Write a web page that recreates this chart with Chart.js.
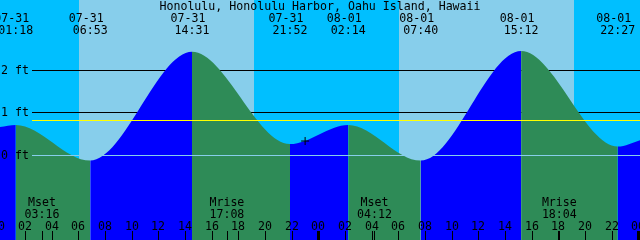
<!DOCTYPE html>
<html>
<head>
<meta charset="utf-8">
<script src="https://cdn.jsdelivr.net/npm/chart.js@4"></script>
<style>
  body { margin: 0; background: #fff; }
  #wrap { width: 640px; height: 240px; }
</style>
</head>
<body>
<div id="wrap"><canvas id="tideChart"></canvas></div>
<script>
const title = "Honolulu, Honolulu Harbor, Oahu Island, Hawaii";
const days = ["07-31", "08-01", "08-02"];

// visible window
const viewStart = "07-31 00:07";
const viewEnd = "08-02 00:07";

// tide extremes
const tideDates = ["07-31", "07-31", "07-31", "07-31", "08-01", "08-01", "08-01", "08-01"];
const tideTimes = ["01:18", "06:53", "14:31", "21:52", "02:14", "07:40", "15:12", "22:27"];
const tideHeights = [0.71, -0.13, 2.43, 0.26, 0.71, -0.13, 2.45, 0.20];

// where the curve leaves the picture on each side
const edgeHeights = [0.66, 0.35];

const sunrises = ["07-31 06:03", "08-01 06:03"];
const sunsets = ["07-31 19:10", "08-01 19:10"];

const moonNames = ["Mset", "Mrise", "Mset", "Mrise"];
const moonDates = ["07-31", "07-31", "08-01", "08-01"];
const moonTimes = ["03:16", "17:08", "04:12", "18:04"];

const markTime = "07-31 23:00";
const markHeight = 0.33;

const levelValues = [2, 1, 0];
const levelLabels = ["2 ft", "1 ft", "0 ft"];
const mslLevel = 0.82;

const hourLabels = ["00", "02", "04", "06", "08", "10", "12", "14", "16", "18", "20", "22"];

const FLOOD = "#0000ff";
const EBB = "#2e8b57";
const DAY = "#87ceeb";
const NIGHT = "#00bfff";
const FONT = "11.6px 'DejaVu Sans Mono', monospace";

function toHours(stamp) {
    const [d, t] = stamp.split(" ");
    const [hh, mm] = t.split(":").map(Number);
    return days.indexOf(d) * 24 + hh + mm / 60;
}

const xMin = toHours(viewStart);
const xMax = toHours(viewEnd);

const tidePoints = [{ x: xMin, y: edgeHeights[0] }];
tideTimes.forEach((t, i) => {
    tidePoints.push({ x: toHours(tideDates[i] + " " + t), y: tideHeights[i] });
});
tidePoints.push({ x: xMax, y: edgeHeights[1] });

const tidePlugin = {
    id: 'tideDecor',
    beforeDraw(chart) {
        const c = chart.ctx;
        const xs = chart.scales.x, ys = chart.scales.y;
        c.save();
        c.fillStyle = NIGHT;
        c.fillRect(0, 0, chart.width, chart.height);
        c.fillStyle = DAY;
        sunrises.forEach((s, i) => {
            const a = Math.round(xs.getPixelForValue(toHours(s)));
            const b = Math.round(xs.getPixelForValue(toHours(sunsets[i])));
            c.fillRect(a, 0, b - a, chart.height);
        });
        // black level lines sit behind the water
        c.fillStyle = "#000";
        levelValues.forEach(v => {
            if (v === 0) return;
            c.fillRect(32, Math.floor(ys.getPixelForValue(v)), chart.width - 32, 1);
        });
        c.restore();
    },
    afterDraw(chart) {
        const c = chart.ctx;
        const xs = chart.scales.x, ys = chart.scales.y;
        c.save();
        c.fillStyle = DAY;
        c.fillRect(32, Math.floor(ys.getPixelForValue(0)), chart.width - 32, 1);
        c.fillStyle = "#ffff00";
        c.fillRect(32, Math.floor(ys.getPixelForValue(mslLevel)), chart.width - 32, 1);

        c.font = FONT;
        c.fillStyle = "#000";
        c.textBaseline = "alphabetic";

        c.textAlign = "left";
        levelValues.forEach((v, i) => {
            c.fillText(levelLabels[i], 1, Math.floor(ys.getPixelForValue(v)) + 4);
        });

        c.textAlign = "center";
        c.fillText(title, 320, 9.5);

        tideTimes.forEach((t, i) => {
            const x = xs.getPixelForValue(toHours(tideDates[i] + " " + t));
            c.fillText(tideDates[i], x - 4, 21.7);
            c.fillText(t, x, 34);
        });

        // hour ticks along the bottom
        days.forEach((d, di) => {
            hourLabels.forEach(h => {
                const v = di * 24 + Number(h);
                if (v < xMin - 1 || v > xMax + 1) return;
                const x = Math.round(xs.getPixelForValue(v));
                c.fillText(h, x, 230);
                if (h === "00") c.fillRect(x - 1, 231, 3, 9);
                else c.fillRect(x, 231, 1, 9);
            });
        });

        moonNames.forEach((n, i) => {
            const x = xs.getPixelForValue(toHours(moonDates[i] + " " + moonTimes[i]));
            c.fillText(n, x, 206);
            c.fillText(moonTimes[i], x, 218);
            c.fillRect(Math.round(x), 231, 1, 9);
        });
        c.restore();
    }
};

new Chart(document.getElementById('tideChart'), {
    type: 'line',
    data: {
        datasets: [{
            data: [{ x: toHours(markTime), y: markHeight }],
            showLine: false,
            pointStyle: 'cross',
            pointRadius: 4,
            borderColor: '#000',
            borderWidth: 1,
            order: 0
        }, {
            data: tidePoints,
            fill: 'start',
            borderWidth: 0,
            borderColor: 'rgba(0,0,0,0)',
            pointRadius: 0,
            cubicInterpolationMode: 'monotone',
            backgroundColor: EBB,
            segment: {
                backgroundColor: s => s.p1.parsed.y > s.p0.parsed.y ? FLOOD : EBB
            },
            order: 1
        }]
    },
    options: {
        animation: false,
        responsive: true,
        maintainAspectRatio: false,
        events: [],
        layout: { padding: 0, autoPadding: false },
        plugins: { legend: { display: false }, tooltip: { enabled: false } },
        scales: {
            x: { type: 'linear', min: xMin, max: xMax, display: false },
            y: { min: -2, max: 3.65, display: false }
        }
    },
    plugins: [tidePlugin]
});
</script>
</body>
</html>
